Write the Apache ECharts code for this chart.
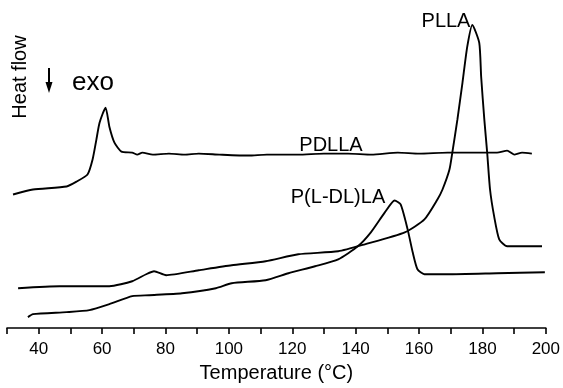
<!DOCTYPE html>
<html>
<head>
<meta charset="utf-8">
<script src="https://cdn.jsdelivr.net/npm/echarts@6/dist/echarts.min.js"></script>
<style>
  html, body { margin: 0; padding: 0; background: #fff; }
  #chart { width: 563px; height: 388px; }
</style>
</head>
<body>
<div id="chart"></div>
<script>
// DSC curves, heat flow in arbitrary units (exo down)
const pdllaT = [31.9, 38.2, 48.8, 52.0, 55.4, 57.0, 58.2, 59.2, 61.1, 62.3, 63.9, 66.1, 69.5, 71.1, 72.7, 76.0, 81.1, 86.0, 90.5, 97.0, 106.2, 112.0, 121.9, 130.0, 137.6, 145.0, 153.3, 160.0, 169.0, 176.0, 184.6, 187.8, 190.0, 192.5, 195.6];
const pdllaV = [13.4, 13.9, 14.2, 14.7, 15.4, 16.9, 18.9, 20.6, 22.1, 20.2, 18.6, 17.7, 17.6, 17.4, 17.6, 17.4, 17.5, 17.4, 17.5, 17.4, 17.3, 17.4, 17.4, 17.5, 17.5, 17.4, 17.6, 17.5, 17.6, 17.6, 17.6, 17.8, 17.4, 17.6, 17.5];

const pllaT = [33.5, 46.6, 62.3, 69.5, 73.9, 76.4, 80.2, 90.5, 100.9, 111.6, 121.9, 134.5, 142.9, 155.5, 161.7, 165.8, 167.4, 169.6, 170.5, 172.1, 173.7, 175.2, 176.8, 179.0, 179.6, 180.6, 181.5, 182.4, 183.7, 185.3, 187.8, 198.8];
const pllaV = [4.0, 4.2, 4.2, 4.7, 5.4, 5.7, 5.3, 5.8, 6.3, 6.7, 7.4, 7.7, 8.4, 9.6, 10.9, 12.9, 13.9, 15.9, 17.6, 20.9, 24.6, 28.2, 30.4, 28.6, 25.2, 20.9, 17.6, 13.9, 11.2, 8.9, 8.2, 8.2];

const pldlT = [36.6, 38.2, 48.8, 56.0, 62.3, 69.5, 74.9, 85.2, 95.9, 100.9, 111.6, 118.8, 127.2, 134.5, 140.7, 144.8, 149.2, 152.3, 154.2, 156.4, 158.0, 159.5, 161.7, 169.0, 184.6, 199.7];
const pldlV = [1.1, 1.4, 1.6, 1.8, 2.4, 3.2, 3.3, 3.5, 4.0, 4.5, 4.8, 5.5, 6.2, 6.9, 8.2, 9.6, 11.6, 12.8, 12.4, 9.9, 7.6, 5.9, 5.4, 5.4, 5.5, 5.6];

const xTicks = [40, 60, 80, 100, 120, 140, 160, 180, 200];

const FONT = 'Liberation Sans, Arial, Helvetica, sans-serif';
const pair = (xs, ys) => xs.map((x, i) => [x, ys[i]]);

const chart = echarts.init(document.getElementById('chart'));

const lineSeries = (name, data) => ({
  name,
  type: 'line',
  data,
  showSymbol: false,
  smooth: 0.2,
  lineStyle: { color: '#000', width: 1.9 },
  silent: true,
});

chart.setOption({
  animation: false,
  backgroundColor: '#fff',
  grid: { left: 7, right: 14, top: 0, bottom: 59 },
  xAxis: {
    type: 'value',
    min: 30,
    max: 200,
    interval: 10,
    name: 'Temperature (°C)',
    nameLocation: 'middle',
    nameGap: 27,
    nameTextStyle: { fontFamily: FONT, fontSize: 20, color: '#000' },
    axisLine: { lineStyle: { color: '#000', width: 1.6 } },
    axisTick: { length: 6, lineStyle: { color: '#000', width: 1.6 } },
    axisLabel: {
      margin: 13,
      fontFamily: FONT,
      fontSize: 17,
      color: '#000',
      formatter: (v) => (xTicks.includes(v) ? String(v) : ''),
    },
    splitLine: { show: false },
  },
  yAxis: {
    type: 'value',
    min: 0,
    max: 32.9,
    show: false,
  },
  graphic: [
    {
      type: 'text', x: 20, y: 77, rotation: Math.PI / 2,
      style: { text: 'Heat flow', font: '20px ' + FONT, fill: '#000', align: 'center', verticalAlign: 'middle' },
    },
    {
      type: 'line',
      shape: { x1: 49, y1: 68, x2: 49, y2: 86 },
      style: { stroke: '#000', lineWidth: 2 },
    },
    {
      type: 'polygon',
      shape: { points: [[45.5, 82], [52.5, 82], [49, 93]] },
      style: { fill: '#000' },
    },
    {
      type: 'text', x: 93, y: 83,
      style: { text: 'exo', font: '26px ' + FONT, fill: '#000', align: 'center', verticalAlign: 'middle' },
    },
    {
      type: 'text', x: 446, y: 21,
      style: { text: 'PLLA', font: '20px ' + FONT, fill: '#000', align: 'center', verticalAlign: 'middle' },
    },
    {
      type: 'text', x: 331, y: 145,
      style: { text: 'PDLLA', font: '20px ' + FONT, fill: '#000', align: 'center', verticalAlign: 'middle' },
    },
    {
      type: 'text', x: 338, y: 197,
      style: { text: 'P(L-DL)LA', font: '20px ' + FONT, fill: '#000', align: 'center', verticalAlign: 'middle' },
    },
  ],
  series: [
    lineSeries('PDLLA', pair(pdllaT, pdllaV)),
    lineSeries('PLLA', pair(pllaT, pllaV)),
    lineSeries('P(L-DL)LA', pair(pldlT, pldlV)),
  ],
});
</script>
</body>
</html>
